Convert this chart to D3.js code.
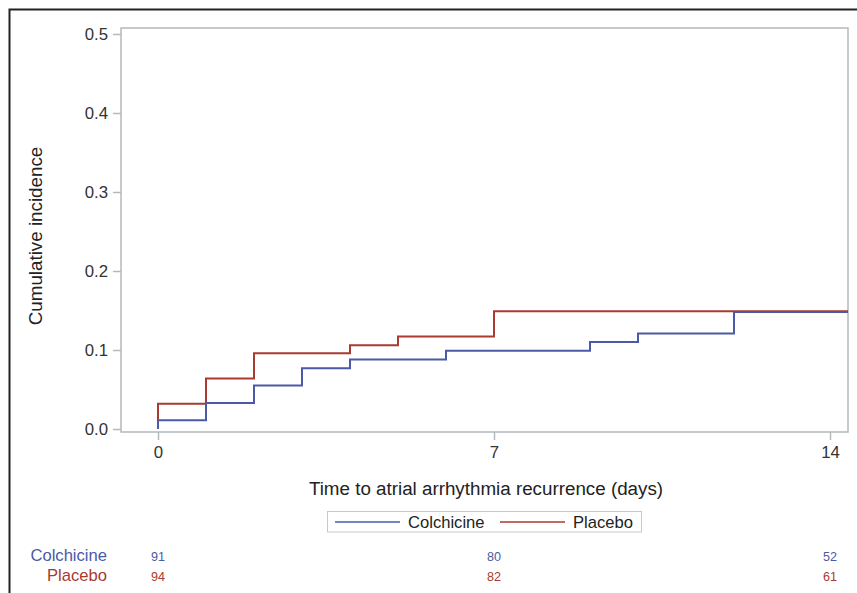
<!DOCTYPE html>
<html>
<head>
<meta charset="utf-8">
<script src="https://cdn.jsdelivr.net/npm/d3@7"></script>
<style>
  body { margin: 0; background: #fff; }
  text { font-family: Arial, "Liberation Sans", sans-serif; }
</style>
</head>
<body>
<div id="container"></div>
<script>
// data
let groups = ["Colchicine", "Placebo"];
let colors = ["#4a5aa6", "#a83a30"];
let colchicineTimes = [0, 0, 1, 2, 3, 4, 6, 9, 10, 12];
let colchicineValues = [0, 0.011, 0.033, 0.055, 0.077, 0.088, 0.099, 0.11, 0.121, 0.148];
let placeboTimes = [0, 0, 1, 2, 4, 5, 7];
let placeboValues = [0, 0.032, 0.064, 0.096, 0.106, 0.117, 0.149];
let lastTime = 14.375;
let xTicks = [0, 7, 14];
let yTicks = [0, 0.1, 0.2, 0.3, 0.4, 0.5];
let atRiskColchicine = [91, 80, 52];
let atRiskPlacebo = [94, 82, 61];

let w = 857;
let h = 593;

let viz = d3.select("#container")
  .append("svg")
    .attr("width", w)
    .attr("height", h)
    .style("display", "block")
;

// outer dark border (cut off on right and bottom)
viz.append("rect")
  .attr("x", 9.5).attr("y", 9.5)
  .attr("width", w + 20).attr("height", h + 20)
  .attr("fill", "none").attr("stroke", "#222").attr("stroke-width", 2);

let xScale = d3.scaleLinear().domain([0, 14]).range([158, 830]);
let yScale = d3.scaleLinear().domain([0, 0.5]).range([429, 34]);

let frame = {left: 121, top: 28, right: 848, bottom: 432};
let axisColor = "#b4b9bc";

// plot frame
viz.append("rect")
  .attr("x", frame.left).attr("y", frame.top)
  .attr("width", frame.right - frame.left).attr("height", frame.bottom - frame.top)
  .attr("fill", "none").attr("stroke", axisColor).attr("stroke-width", 1.5);

// y axis
let yAxisGroup = viz.append("g").attr("transform", "translate(" + frame.left + ",0)");
yAxisGroup.call(d3.axisLeft(yScale).tickValues(yTicks).tickFormat(d3.format(".1f")).tickSize(8).tickPadding(5));
yAxisGroup.select(".domain").remove();
yAxisGroup.selectAll(".tick line").attr("stroke", axisColor).attr("stroke-width", 1.5);
yAxisGroup.selectAll(".tick text").attr("fill", "#333").attr("font-size", 16.8)
  .attr("font-family", "Arial, 'Liberation Sans', sans-serif");

// x axis
let xAxisGroup = viz.append("g").attr("transform", "translate(0," + frame.bottom + ")");
xAxisGroup.call(d3.axisBottom(xScale).tickValues(xTicks).tickSize(8).tickPadding(6));
xAxisGroup.select(".domain").remove();
xAxisGroup.selectAll(".tick line").attr("stroke", axisColor).attr("stroke-width", 1.5);
xAxisGroup.selectAll(".tick text").attr("fill", "#333").attr("font-size", 16.8)
  .attr("font-family", "Arial, 'Liberation Sans', sans-serif");

// axis titles
viz.append("text")
  .attr("x", 486).attr("y", 495)
  .attr("text-anchor", "middle")
  .attr("font-size", 18.8).attr("fill", "#222")
  .text("Time to atrial arrhythmia recurrence (days)");

viz.append("text")
  .attr("transform", "translate(42,236) rotate(-90)")
  .attr("text-anchor", "middle")
  .attr("font-size", 18.8).attr("fill", "#222")
  .text("Cumulative incidence");

// step curves
let line = d3.line()
  .x(function(d){ return xScale(d[0]); })
  .y(function(d){ return yScale(d[1]); })
  .curve(d3.curveStepAfter);

function makeSeries(times, values){
  let pts = times.map(function(t, i){ return [t, values[i]]; });
  pts.push([lastTime, values[values.length - 1]]);
  return pts;
}

let series = [
  makeSeries(placeboTimes, placeboValues),
  makeSeries(colchicineTimes, colchicineValues)
];
let seriesColors = [colors[1], colors[0]];

viz.append("g").selectAll("path")
  .data(series)
  .enter()
  .append("path")
    .attr("d", line)
    .attr("fill", "none")
    .attr("stroke", function(d, i){ return seriesColors[i]; })
    .attr("stroke-width", 2)
;

// legend
let legend = viz.append("g");
legend.append("rect")
  .attr("x", 327.5).attr("y", 511.5).attr("width", 314).attr("height", 20.5)
  .attr("fill", "#fff").attr("stroke", "#c8c8c8").attr("stroke-width", 1);
let legendX = [335, 500];
groups.forEach(function(g, i){
  legend.append("line")
    .attr("x1", legendX[i]).attr("x2", legendX[i] + 65)
    .attr("y1", 522).attr("y2", 522)
    .attr("stroke", colors[i]).attr("stroke-width", 1.5);
  legend.append("text")
    .attr("x", legendX[i] + 73).attr("y", 528)
    .attr("font-size", 16.6).attr("fill", "#222")
    .text(g);
});

// numbers at risk
let atRisk = [atRiskColchicine, atRiskPlacebo];
let rowY = [561, 581];
groups.forEach(function(g, i){
  viz.append("text")
    .attr("x", 107).attr("y", rowY[i])
    .attr("text-anchor", "end")
    .attr("font-size", 16.6).attr("fill", colors[i])
    .text(g);
  viz.append("g").selectAll("text")
    .data(atRisk[i])
    .enter()
    .append("text")
      .attr("x", function(d, j){ return xScale(xTicks[j]); })
      .attr("y", rowY[i])
      .attr("text-anchor", "middle")
      .attr("font-size", 12.6).attr("fill", colors[i])
      .text(function(d){ return d; })
  ;
});
</script>
</body>
</html>
